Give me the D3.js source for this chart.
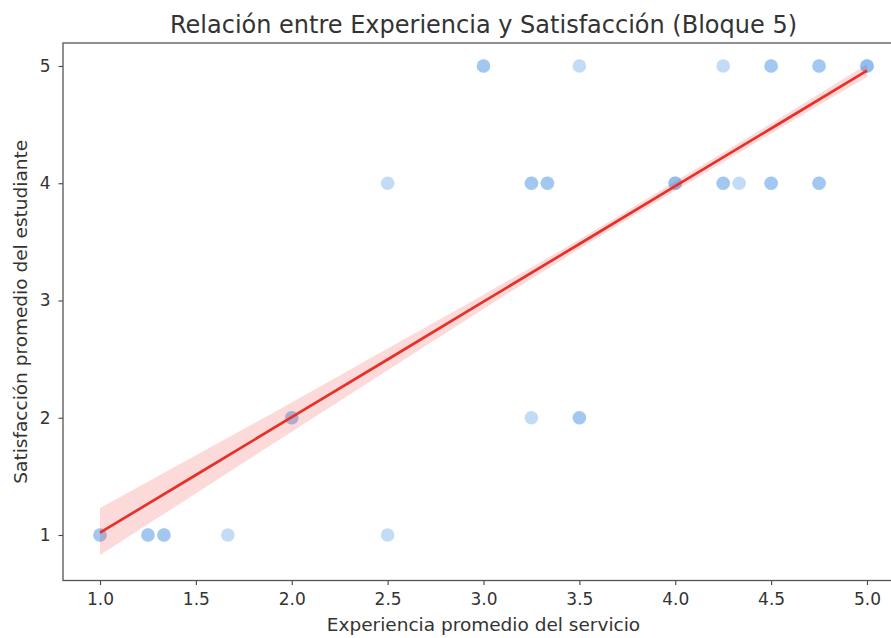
<!DOCTYPE html>
<html>
<head>
<meta charset="utf-8">
<script src="https://cdn.jsdelivr.net/npm/d3@7"></script>
<style>
  html, body { margin: 0; padding: 0; background: #fff; overflow: hidden; }
  svg { display: block; font-family: "DejaVu Sans", sans-serif; }
</style>
</head>
<body>
<svg id="chart" width="891" height="638"></svg>
<script>
// Observations: average service experience (x), average student satisfaction (y),
// and how many students share that exact pair (drawn as stacked translucent dots).
const experiencia  = [3.0, 3.5, 4.25, 4.5, 4.75, 5.0,
                      2.5, 3.25, 3.3333, 4.0, 4.25, 4.3333, 4.5, 4.75,
                      2.0, 3.25, 3.5,
                      1.0, 1.25, 1.3333, 1.6667, 2.5];
const satisfaccion = [5, 5, 5, 5, 5, 5,
                      4, 4, 4, 4, 4, 4, 4, 4,
                      2, 2, 2,
                      1, 1, 1, 1, 1];
const repeticiones = [2, 1, 1, 2, 2, 3,
                      1, 2, 2, 3, 2, 1, 2, 2,
                      2, 1, 2,
                      2, 2, 2, 1, 1];

// Linear fit and its 95% confidence band
const ajusteX     = [1.0, 1.5, 2.0, 2.5, 3.0, 3.5, 4.0, 4.5, 5.0];
const ajusteY     = [1.02, 1.512, 2.005, 2.497, 2.99, 3.482, 3.975, 4.467, 4.96];
const bandaInf    = [0.83, 1.355, 1.88, 2.405, 2.928, 3.44, 3.935, 4.425, 4.905];
const bandaSup    = [1.23, 1.68, 2.13, 2.59, 3.05, 3.52, 4.015, 4.51, 5.015];

const xTicks = [1.0, 1.5, 2.0, 2.5, 3.0, 3.5, 4.0, 4.5, 5.0];
const yTicks = [1, 2, 3, 4, 5];

const titulo = "Relación entre Experiencia y Satisfacción (Bloque 5)";
const etiquetaX = "Experiencia promedio del servicio";
const etiquetaY = "Satisfacción promedio del estudiante";

const svg = d3.select("#chart");
const plot = { left: 63, right: 904, top: 43, bottom: 580.5 };

const x = d3.scaleLinear().domain([0.807, 5.193]).range([plot.left, plot.right]);
const y = d3.scaleLinear().domain([0.612, 5.196]).range([plot.bottom, plot.top]);

// scatter: one translucent dot per student
const puntos = [];
experiencia.forEach((v, i) => {
  for (let k = 0; k < repeticiones[i]; k++) puntos.push({ x: v, y: satisfaccion[i] });
});
svg.append("g").selectAll("circle").data(puntos).join("circle")
  .attr("cx", d => x(d.x))
  .attr("cy", d => y(d.y))
  .attr("r", 6.8)
  .attr("fill", "#7fb4ec")
  .attr("fill-opacity", 0.48);

// confidence band
const fit = ajusteX.map((v, i) => ({ x: v, y: ajusteY[i], lo: bandaInf[i], hi: bandaSup[i] }));
svg.append("path").datum(fit)
  .attr("d", d3.area().x(d => x(d.x)).y0(d => y(d.lo)).y1(d => y(d.hi)).curve(d3.curveMonotoneX))
  .attr("fill", "#e8302a")
  .attr("fill-opacity", 0.18);

// regression line
svg.append("path").datum(fit)
  .attr("d", d3.line().x(d => x(d.x)).y(d => y(d.y)))
  .attr("fill", "none")
  .attr("stroke", "#e8302a")
  .attr("stroke-width", 2.7);

// axes
const xAxis = d3.axisBottom(x).tickValues(xTicks).tickFormat(d3.format(".1f")).tickSizeOuter(0).tickSize(4.5).tickPadding(8);
const yAxis = d3.axisLeft(y).tickValues(yTicks).tickFormat(d3.format("d")).tickSizeOuter(0).tickSize(4.5).tickPadding(8);

const gx = svg.append("g").attr("transform", `translate(0,${plot.bottom})`).call(xAxis);
const gy = svg.append("g").attr("transform", `translate(${plot.left},0)`).call(yAxis);
[gx, gy].forEach(g => {
  g.select(".domain").remove();
  g.selectAll(".tick line").attr("stroke", "#444").attr("stroke-width", 1.1);
  g.selectAll(".tick text").attr("fill", "#333").attr("font-size", 17)
    .attr("font-family", "DejaVu Sans, sans-serif");
});

// frame
svg.append("rect")
  .attr("x", plot.left).attr("y", plot.top)
  .attr("width", plot.right - plot.left).attr("height", plot.bottom - plot.top)
  .attr("fill", "none").attr("stroke", "#555").attr("stroke-width", 1.3);

// title and labels
svg.append("text")
  .attr("x", (plot.left + plot.right) / 2).attr("y", 33)
  .attr("text-anchor", "middle").attr("font-size", 24).attr("fill", "#333")
  .text(titulo);

svg.append("text")
  .attr("x", (plot.left + plot.right) / 2).attr("y", 631)
  .attr("text-anchor", "middle").attr("font-size", 18.5).attr("fill", "#333")
  .text(etiquetaX);

svg.append("text")
  .attr("transform", `translate(27,${(plot.top + plot.bottom) / 2}) rotate(-90)`)
  .attr("text-anchor", "middle").attr("font-size", 18.5).attr("fill", "#333")
  .text(etiquetaY);
</script>
</body>
</html>
